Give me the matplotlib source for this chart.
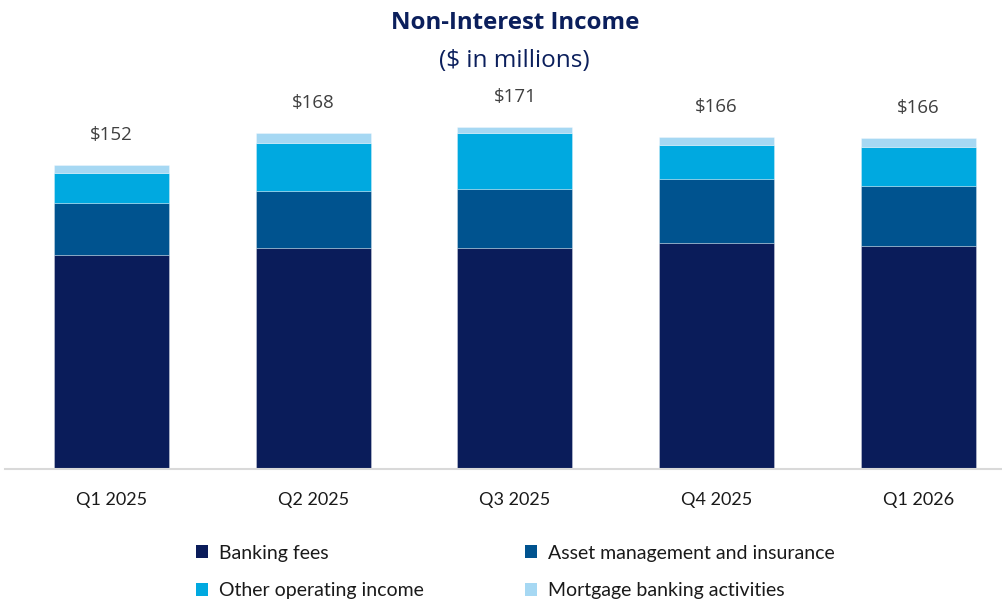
import matplotlib
matplotlib.use("Agg")
import matplotlib.pyplot as plt
from matplotlib.patches import Patch

categories = ["Q1 2025", "Q2 2025", "Q3 2025", "Q4 2025", "Q1 2026"]
banking_fees = [107, 110.5, 110.5, 113, 111.5]
asset_mgmt = [26, 28.5, 29.5, 32, 30]
other_income = [15, 24, 28, 17, 19.5]
mortgage = [4, 5, 3, 4, 4.5]
totals = [152, 168, 171, 166, 166]

series_names = ["Banking fees", "Asset management and insurance",
                "Other operating income", "Mortgage banking activities"]
colors = ["#0A1C5A", "#00538F", "#00A9E0", "#A6D8F3"]

W, H = 1002, 599
fig = plt.figure(figsize=(W / 100, H / 100), dpi=100)
ax_left, ax_right = 5, 1002
ax_bottom_px, ax_top_px = 469.3, 80
ax = fig.add_axes([ax_left / W, (H - ax_bottom_px) / H,
                   (ax_right - ax_left) / W, (ax_bottom_px - ax_top_px) / H])

x = list(range(len(categories)))
width = 0.57
bottom = [0] * len(x)
series = [banking_fees, asset_mgmt, other_income, mortgage]
for vals, col, name in zip(series, colors, series_names):
    ax.bar(x, vals, width, bottom=bottom, color=col, label=name,
           edgecolor=(1, 1, 1, 0.35), linewidth=0.6)
    bottom = [b + v for b, v in zip(bottom, vals)]

for xi, top, t in zip(x, bottom, totals):
    ax.annotate(f"${t}", (xi, top), xytext=(0, 22), textcoords="offset points",
                ha="center", va="center", fontsize=13.5, color="#404040",
                family="Open Sans")

ax.set_xlim(-0.528, 4.415)
ax.set_ylim(0, (ax_bottom_px - ax_top_px) / 2.0)
ax.set_xticks(x)
ax.set_xticklabels(categories, fontsize=13, family="Lato", color="#1a1a1a")
ax.tick_params(axis="x", length=0, pad=16)
ax.set_yticks([])
for s in ["top", "right", "left"]:
    ax.spines[s].set_visible(False)
ax.spines["bottom"].set_color("#D9D9D9")
ax.spines["bottom"].set_linewidth(1.5)

fig.text(515 / W, 1 - 23 / H, "Non-Interest Income", ha="center", va="center",
         fontsize=17.3, fontweight="bold", color="#0B1F5C", family="Open Sans")
fig.text(514 / W, 1 - 61 / H, "($ in millions)", ha="center", va="center",
         fontsize=17.5, color="#0B1F5C", family="Open Sans")

handles = [Patch(facecolor=c, label=n) for c, n in zip(colors, series_names)]
order = [0, 2, 1, 3]
leg = fig.legend([handles[i] for i in order], [series_names[i] for i in order],
                 ncol=2, loc="upper left", bbox_to_anchor=(178 / W, 1 - 527 / H),
                 frameon=False, prop={"family": "Lato", "size": 14},
                 handlelength=0.65, handleheight=0.65, handletextpad=0.55,
                 columnspacing=5.2, labelspacing=1.05)
for t in leg.get_texts():
    t.set_color("#1a1a1a")

fig.savefig("out.png", dpi=100)
